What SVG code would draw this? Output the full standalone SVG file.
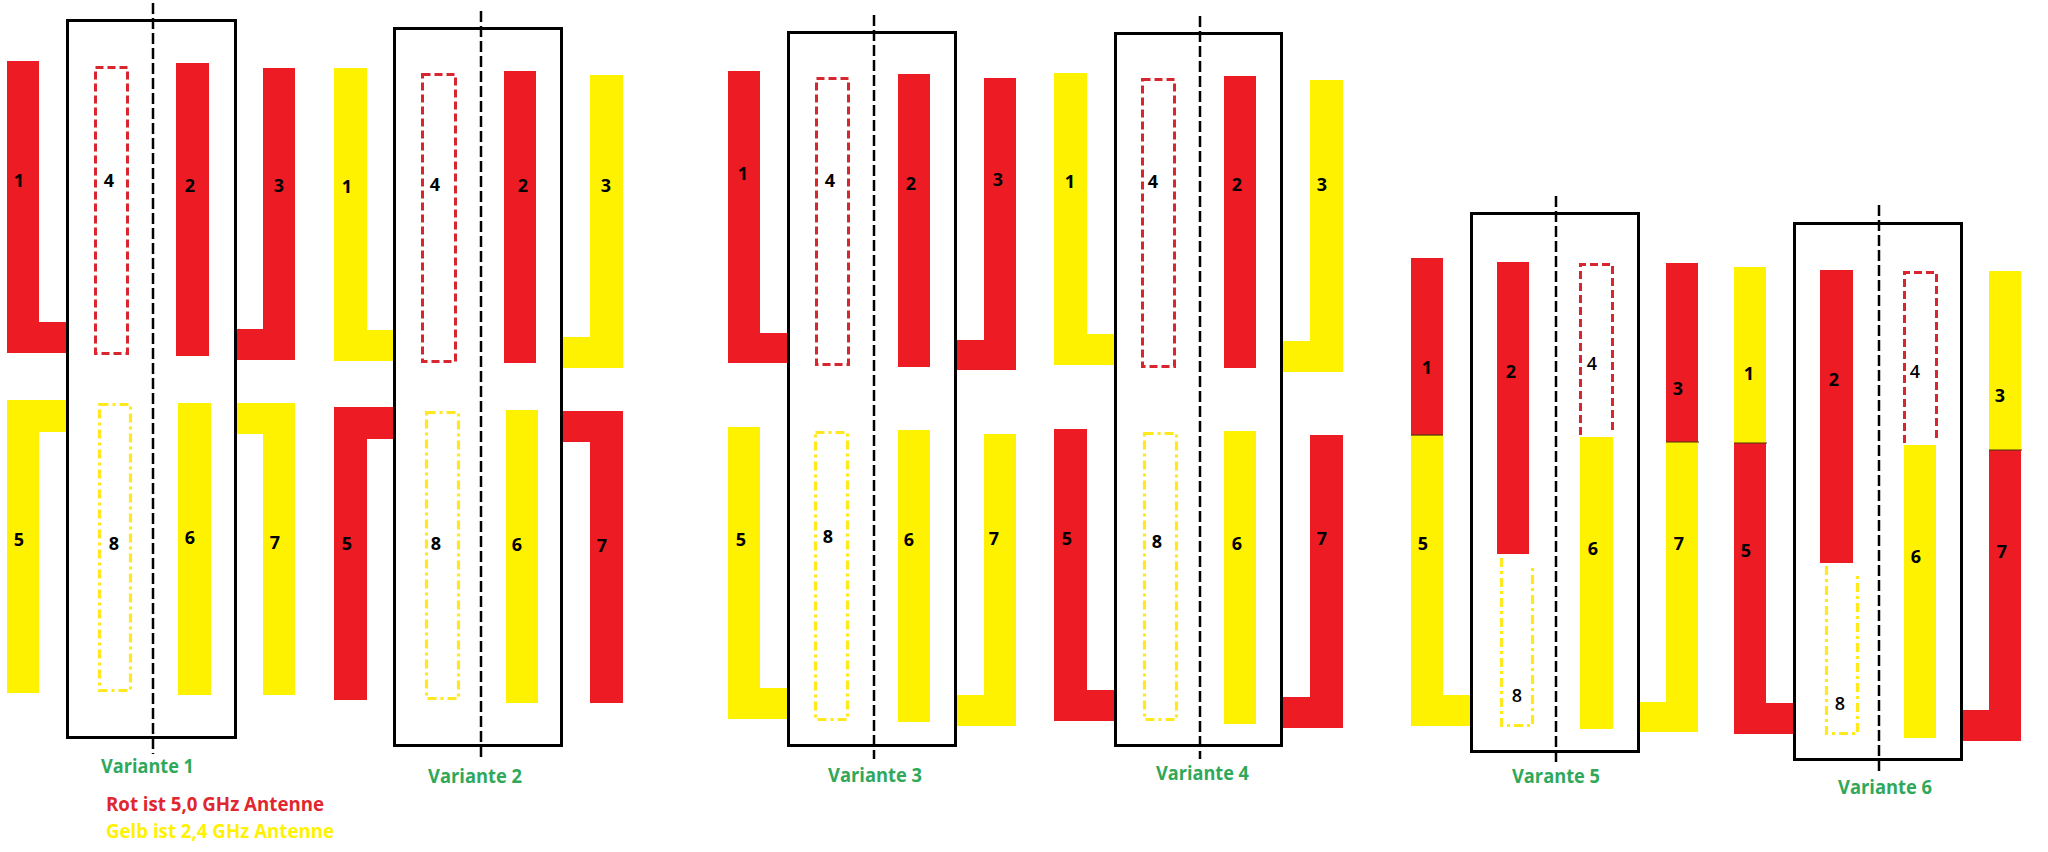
<svg xmlns="http://www.w3.org/2000/svg" width="2048" height="852" viewBox="0 0 2048 852">
<style>
.r{fill:#ed1c24}
.y{fill:#fff200}
.rd{fill:none;stroke:#d8262f;stroke-width:3;stroke-dasharray:8 4}
.yd{fill:none;stroke:#ffe81e;stroke-width:3.2;stroke-dasharray:9 4 3 4}
.box{fill:none;stroke:#000;stroke-width:3}
.cl{stroke:#000;stroke-width:2.5;stroke-dasharray:11 4}
.sep{stroke:#4a3010;stroke-width:1.2}
.n{font-family:"Open Sans","Liberation Sans",sans-serif;font-weight:bold;font-size:18px;fill:#000;text-anchor:middle}
.nl{font-weight:600}
.v{font-family:"Open Sans","Liberation Sans",sans-serif;font-weight:bold;font-size:19px;fill:#2fa85a}
.lr{font-family:"Open Sans","Liberation Sans",sans-serif;font-weight:bold;font-size:19px;fill:#e0262e}
.ly{font-family:"Open Sans","Liberation Sans",sans-serif;font-weight:bold;font-size:19px;fill:#fff200}
</style>
<rect width="2048" height="852" fill="#fff"/>

<g id="variante1">
  <path class="r" d="M7 61H39V322H66V353H7Z"/>
  <rect class="rd" x="95.5" y="67.5" width="32" height="286"/>
  <rect class="r" x="176" y="63" width="33" height="293"/>
  <path class="r" d="M263 68H295V360H237V329H263Z"/>
  <path class="y" d="M7 400H66V432H39V693H7Z"/>
  <rect class="yd" x="99.5" y="404.5" width="31" height="286"/>
  <rect class="y" x="178" y="403" width="33" height="292"/>
  <path class="y" d="M237 403H295V695H263V434H237Z"/>
  <rect class="box" x="67.5" y="20.5" width="168" height="717"/>
  <line class="cl" x1="153" y1="3" x2="153" y2="754"/>
  <text class="n" x="19" y="186.5">1</text>
  <text class="n" x="109" y="186.5">4</text>
  <text class="n" x="190" y="191.5">2</text>
  <text class="n" x="279" y="191.5">3</text>
  <text class="n" x="19" y="545.5">5</text>
  <text class="n" x="114" y="549.5">8</text>
  <text class="n" x="190" y="543.5">6</text>
  <text class="n" x="275" y="548.5">7</text>
  <text class="v" x="101" y="773" textLength="93" lengthAdjust="spacingAndGlyphs">Variante 1</text>
</g>

<g id="legende">
  <text class="lr" x="106" y="811" textLength="218" lengthAdjust="spacingAndGlyphs">Rot ist 5,0 GHz Antenne</text>
  <text class="ly" x="106" y="838" textLength="228" lengthAdjust="spacingAndGlyphs">Gelb ist 2,4 GHz Antenne</text>
</g>

<g id="variante2">
  <path class="y" d="M334 68H367V330H393V361H334Z"/>
  <rect class="rd" x="422.5" y="74.5" width="33" height="287"/>
  <rect class="r" x="504" y="71" width="32" height="292"/>
  <path class="y" d="M590 75H623V368H563V337H590Z"/>
  <path class="r" d="M334 407H393V439H367V700H334Z"/>
  <rect class="yd" x="426.5" y="412.5" width="32" height="286"/>
  <rect class="y" x="506" y="410" width="32" height="293"/>
  <path class="r" d="M563 411H623V703H590V442H563Z"/>
  <rect class="box" x="394.5" y="28.5" width="167" height="717"/>
  <line class="cl" x1="481" y1="11" x2="481" y2="759"/>
  <text class="n" x="347" y="192.5">1</text>
  <text class="n" x="435" y="190.5">4</text>
  <text class="n" x="523" y="191.5">2</text>
  <text class="n" x="606" y="191.5">3</text>
  <text class="n" x="347" y="549.5">5</text>
  <text class="n" x="436" y="549.5">8</text>
  <text class="n" x="517" y="550.5">6</text>
  <text class="n" x="602" y="551.5">7</text>
  <text class="v" x="428" y="783" textLength="94" lengthAdjust="spacingAndGlyphs">Variante 2</text>
</g>

<g id="variante3">
  <path class="r" d="M728 71H760V333H787V363H728Z"/>
  <rect class="rd" x="816.5" y="78.5" width="32" height="286"/>
  <rect class="r" x="898" y="74" width="32" height="293"/>
  <path class="r" d="M984 78H1016V370H957V340H984Z"/>
  <path class="y" d="M728 427H760V688H787V719H728Z"/>
  <rect class="yd" x="815.5" y="432.5" width="32" height="287"/>
  <rect class="y" x="898" y="430" width="32" height="292"/>
  <path class="y" d="M984 434H1016V726H957V695H984Z"/>
  <rect class="box" x="788.5" y="32.5" width="167" height="713"/>
  <line class="cl" x1="874" y1="15" x2="874" y2="759"/>
  <text class="n" x="743" y="179.5">1</text>
  <text class="n" x="830" y="186.5">4</text>
  <text class="n" x="911" y="189.5">2</text>
  <text class="n" x="998" y="185.5">3</text>
  <text class="n" x="741" y="545.5">5</text>
  <text class="n" x="828" y="542.5">8</text>
  <text class="n" x="909" y="545.5">6</text>
  <text class="n" x="994" y="544.5">7</text>
  <text class="v" x="828" y="782" textLength="94" lengthAdjust="spacingAndGlyphs">Variante 3</text>
</g>

<g id="variante4">
  <path class="y" d="M1054 73H1087V334H1114V365H1054Z"/>
  <rect class="rd" x="1142.5" y="79.5" width="32" height="287"/>
  <rect class="r" x="1224" y="76" width="32" height="292"/>
  <path class="y" d="M1310 80H1343V372H1283V341H1310Z"/>
  <path class="r" d="M1054 429H1087V690H1114V721H1054Z"/>
  <rect class="yd" x="1144.5" y="433.5" width="32" height="286"/>
  <rect class="y" x="1224" y="431" width="32" height="293"/>
  <path class="r" d="M1310 435H1343V728H1283V697H1310Z"/>
  <rect class="box" x="1115.5" y="33.5" width="166" height="712"/>
  <line class="cl" x1="1200" y1="16" x2="1200" y2="759"/>
  <text class="n" x="1070" y="187.5">1</text>
  <text class="n" x="1153" y="187.5">4</text>
  <text class="n" x="1237" y="190.5">2</text>
  <text class="n" x="1322" y="190.5">3</text>
  <text class="n" x="1067" y="544.5">5</text>
  <text class="n" x="1157" y="547.5">8</text>
  <text class="n" x="1237" y="549.5">6</text>
  <text class="n" x="1322" y="544.5">7</text>
  <text class="v" x="1156" y="780" textLength="93" lengthAdjust="spacingAndGlyphs">Variante 4</text>
</g>

<g id="variante5">
  <rect class="r" x="1411" y="258" width="32" height="177"/>
  <path class="y" d="M1411 435H1443V695H1470V726H1411Z"/>
  <line class="sep" x1="1411" y1="435" x2="1443" y2="435"/>
  <rect class="r" x="1497" y="262" width="32" height="292"/>
  <path class="yd" d="M1501.5 558V725.5H1532.5V568"/>
  <path class="rd" d="M1580.5 435V264.5H1612.5V432"/>
  <rect class="y" x="1580" y="437" width="33" height="292"/>
  <rect class="r" x="1666" y="263" width="32" height="179"/>
  <path class="y" d="M1666 442H1698V732H1640V702H1666Z"/>
  <line class="sep" x1="1666" y1="442" x2="1699" y2="442"/>
  <rect class="box" x="1471.5" y="213.5" width="167" height="538"/>
  <line class="cl" x1="1556" y1="196" x2="1556" y2="766"/>
  <text class="n" x="1427" y="373.5">1</text>
  <text class="n" x="1511" y="377.5">2</text>
  <text class="n nl" x="1592" y="369.5">4</text>
  <text class="n" x="1678" y="394.5">3</text>
  <text class="n" x="1423" y="549.5">5</text>
  <text class="n nl" x="1517" y="701.5">8</text>
  <text class="n" x="1593" y="554.5">6</text>
  <text class="n" x="1679" y="549.5">7</text>
  <text class="v" x="1512" y="783" textLength="88" lengthAdjust="spacingAndGlyphs">Varante 5</text>
</g>

<g id="variante6">
  <rect class="y" x="1734" y="267" width="32" height="176"/>
  <path class="r" d="M1734 443H1766V703H1793V734H1734Z"/>
  <line class="sep" x1="1734" y1="443" x2="1767" y2="443"/>
  <rect class="r" x="1820" y="270" width="33" height="293"/>
  <path class="yd" d="M1826.5 566V733.5H1857.5V576"/>
  <path class="rd" d="M1904.5 443V272.5H1936.5V440"/>
  <rect class="y" x="1904" y="445" width="32" height="293"/>
  <rect class="y" x="1989" y="271" width="32" height="179"/>
  <path class="r" d="M1989 450H2021V741H1963V710H1989Z"/>
  <line class="sep" x1="1989" y1="450" x2="2022" y2="450"/>
  <rect class="box" x="1794.5" y="223.5" width="167" height="536"/>
  <line class="cl" x1="1879" y1="205" x2="1879" y2="774"/>
  <text class="n" x="1749" y="379.5">1</text>
  <text class="n" x="1834" y="385.5">2</text>
  <text class="n nl" x="1915" y="377.5">4</text>
  <text class="n" x="2000" y="401.5">3</text>
  <text class="n" x="1746" y="556.5">5</text>
  <text class="n nl" x="1840" y="709.5">8</text>
  <text class="n" x="1916" y="562.5">6</text>
  <text class="n" x="2002" y="557.5">7</text>
  <text class="v" x="1838" y="794" textLength="94" lengthAdjust="spacingAndGlyphs">Variante 6</text>
</g>
</svg>
